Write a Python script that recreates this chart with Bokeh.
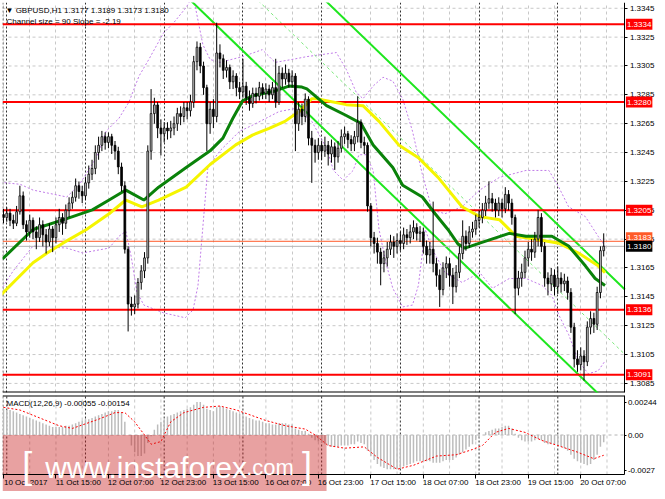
from bokeh.plotting import figure
from bokeh.models import Range1d, FixedTicker, Label, NumeralTickFormatter, Grid, LinearAxis
from bokeh.layouts import column
from bokeh.embed import file_html
from bokeh.resources import INLINE

FONT = "Liberation Sans"

# ---------------- data (H1 bars, index 0 = 10 Oct 2017 23:00) ----------------
first_open = 1.3202
closes = [
    1.3200, 1.3203, 1.3198, 1.3196, 1.3204, 1.3215, 1.3195, 1.3190, 1.3198, 1.3190,
    1.3186, 1.3195, 1.3188, 1.3183, 1.3192, 1.3186, 1.3195, 1.3200, 1.3196, 1.3205,
    1.3210, 1.3214, 1.3222, 1.3218, 1.3215, 1.3224, 1.3230, 1.3234, 1.3245, 1.3250,
    1.3256, 1.3252, 1.3256, 1.3250, 1.3246, 1.3235, 1.3222, 1.3178, 1.3140, 1.3138,
    1.3140, 1.3155, 1.3163, 1.3172, 1.3246, 1.3272, 1.3278, 1.3262, 1.3258, 1.3262,
    1.3260, 1.3262, 1.3265, 1.3272, 1.3270, 1.3276, 1.3274, 1.3280, 1.3308, 1.3318,
    1.3305, 1.3290, 1.3265, 1.3275, 1.3270, 1.3314, 1.3310, 1.3302, 1.3304, 1.3294,
    1.3298, 1.3290, 1.3287, 1.3291, 1.3283, 1.3279, 1.3286, 1.3284, 1.3290, 1.3286,
    1.3289, 1.3285, 1.3290, 1.3280, 1.3300, 1.3296, 1.3300, 1.3294, 1.3298, 1.3265,
    1.3275, 1.3270, 1.3282, 1.3255, 1.3250, 1.3245, 1.3250, 1.3246, 1.3250, 1.3244,
    1.3249, 1.3242, 1.3248, 1.3256, 1.3258, 1.3254, 1.3251, 1.3256, 1.3266, 1.3252,
    1.3250, 1.3208, 1.3186, 1.3182, 1.3176, 1.3168, 1.3172, 1.3178, 1.3183, 1.3180,
    1.3184, 1.3182, 1.3188, 1.3186, 1.3190, 1.3193, 1.3189, 1.3190, 1.3180, 1.3174,
    1.3178, 1.3168, 1.3160, 1.3150, 1.3165, 1.3168, 1.3160, 1.3152, 1.3162, 1.3175,
    1.3187, 1.3182, 1.3190, 1.3192, 1.3198, 1.3200, 1.3205, 1.3210, 1.3213, 1.3210,
    1.3205, 1.3210, 1.3206, 1.3216, 1.3210, 1.3200, 1.3151, 1.3158, 1.3162, 1.3172,
    1.3178, 1.3176, 1.3185, 1.3200, 1.3180, 1.3158, 1.3154, 1.3160, 1.3152, 1.3158,
    1.3154, 1.3156, 1.3148, 1.3124, 1.3102, 1.3098, 1.3104, 1.3100, 1.3124, 1.3130,
    1.3126, 1.3148, 1.3177, 1.3180]
highs = [
    1.3206, 1.3207, 1.3206, 1.3202, 1.3208, 1.3222, 1.3218, 1.3198, 1.3202, 1.3200,
    1.3194, 1.3200, 1.3198, 1.3192, 1.3196, 1.3194, 1.3200, 1.3206, 1.3203, 1.3209,
    1.3214, 1.3218, 1.3227, 1.3225, 1.3222, 1.3228, 1.3236, 1.3240, 1.3250, 1.3256,
    1.3260, 1.3259, 1.3259, 1.3258, 1.3253, 1.3249, 1.3238, 1.3225, 1.3180, 1.3145,
    1.3146, 1.3158, 1.3167, 1.3176, 1.3250, 1.3289, 1.3283, 1.3280, 1.3268, 1.3266,
    1.3266, 1.3267, 1.3270, 1.3276, 1.3277, 1.3280, 1.3280, 1.3285, 1.3312, 1.3322,
    1.3321, 1.3308, 1.3292, 1.3280, 1.3282, 1.3335, 1.3320, 1.3313, 1.3309, 1.3306,
    1.3302, 1.3300, 1.3294, 1.3310, 1.3294, 1.3288, 1.3290, 1.3290, 1.3294, 1.3293,
    1.3293, 1.3292, 1.3294, 1.3310, 1.3305, 1.3304, 1.3306, 1.3303, 1.3302, 1.3300,
    1.3280, 1.3279, 1.3286, 1.3284, 1.3260, 1.3254, 1.3255, 1.3253, 1.3256, 1.3253,
    1.3254, 1.3252, 1.3253, 1.3261, 1.3263, 1.3260, 1.3257, 1.3260, 1.3284, 1.3268,
    1.3256, 1.3252, 1.3210, 1.3190, 1.3186, 1.3179, 1.3177, 1.3183, 1.3188, 1.3187,
    1.3189, 1.3190, 1.3193, 1.3192, 1.3195, 1.3198, 1.3196, 1.3194, 1.3193, 1.3184,
    1.3183, 1.3211, 1.3172, 1.3164, 1.3169, 1.3173, 1.3172, 1.3165, 1.3167, 1.3180,
    1.3198, 1.3191, 1.3194, 1.3197, 1.3202, 1.3205, 1.3210, 1.3215, 1.3225, 1.3217,
    1.3213, 1.3214, 1.3213, 1.3221, 1.3219, 1.3213, 1.3202, 1.3163, 1.3168, 1.3177,
    1.3183, 1.3185, 1.3190, 1.3205, 1.3203, 1.3183, 1.3162, 1.3165, 1.3164, 1.3166,
    1.3162, 1.3161, 1.3159, 1.3151, 1.3127, 1.3108, 1.3110, 1.3108, 1.3128, 1.3135,
    1.3134, 1.3152, 1.3180, 1.3189]
lows = [
    1.3196, 1.3197, 1.3194, 1.3192, 1.3194, 1.3202, 1.3192, 1.3184, 1.3186, 1.3185,
    1.3178, 1.3183, 1.3180, 1.3175, 1.3180, 1.3176, 1.3182, 1.3190, 1.3188, 1.3192,
    1.3200, 1.3206, 1.3211, 1.3213, 1.3210, 1.3212, 1.3220, 1.3226, 1.3230, 1.3240,
    1.3246, 1.3247, 1.3248, 1.3244, 1.3240, 1.3230, 1.3218, 1.3175, 1.3121, 1.3132,
    1.3133, 1.3137, 1.3150, 1.3158, 1.3168, 1.3240, 1.3265, 1.3255, 1.3243, 1.3252,
    1.3254, 1.3255, 1.3257, 1.3260, 1.3264, 1.3266, 1.3268, 1.3270, 1.3276, 1.3302,
    1.3300, 1.3285, 1.3246, 1.3258, 1.3262, 1.3266, 1.3304, 1.3296, 1.3297, 1.3289,
    1.3289, 1.3284, 1.3282, 1.3283, 1.3278, 1.3274, 1.3276, 1.3279, 1.3281, 1.3282,
    1.3282, 1.3280, 1.3282, 1.3276, 1.3278, 1.3290, 1.3292, 1.3290, 1.3290, 1.3246,
    1.3260, 1.3264, 1.3266, 1.3250, 1.3224, 1.3238, 1.3240, 1.3240, 1.3242, 1.3236,
    1.3238, 1.3233, 1.3238, 1.3245, 1.3251, 1.3248, 1.3246, 1.3246, 1.3252, 1.3248,
    1.3244, 1.3204, 1.3180, 1.3175, 1.3168, 1.3153, 1.3162, 1.3166, 1.3174, 1.3172,
    1.3175, 1.3177, 1.3178, 1.3181, 1.3182, 1.3185, 1.3184, 1.3183, 1.3175, 1.3168,
    1.3168, 1.3162, 1.3152, 1.3138, 1.3146, 1.3158, 1.3152, 1.3140, 1.3148, 1.3158,
    1.3171, 1.3177, 1.3179, 1.3186, 1.3188, 1.3193, 1.3196, 1.3201, 1.3206, 1.3204,
    1.3200, 1.3201, 1.3200, 1.3203, 1.3205, 1.3195, 1.3133, 1.3146, 1.3152, 1.3158,
    1.3166, 1.3170, 1.3172, 1.3180, 1.3176, 1.3152, 1.3146, 1.3149, 1.3146, 1.3147,
    1.3148, 1.3149, 1.3143, 1.3120, 1.3096, 1.3093, 1.3094, 1.3087, 1.3097, 1.3119,
    1.3120, 1.3122, 1.3144, 1.3173]

# moving averages (green fast, yellow slow)
green_i = [-0.3, 9.0, 19.3, 27.1, 32.2, 37.3, 42.8, 47.3, 55.7, 63.0, 66.9, 69.9, 72.9, 75.9, 82.8, 87.0,
           91.0, 92.5, 98.5, 104.5, 109.0, 112.7, 118.7, 121.7, 127.7, 131.6, 135.5, 138.6, 140.7, 145.2,
           154.2, 159.3, 167.2, 172.3, 177.4, 180.4, 183.4]
green_p = [1.31713, 1.31917, 1.31992, 1.32053, 1.32121, 1.32190, 1.32121, 1.32210, 1.32346, 1.32462,
           1.32550, 1.32686, 1.32809, 1.32843, 1.32877, 1.32911, 1.32904, 1.32891, 1.32775, 1.32707,
           1.32652, 1.32503, 1.32346, 1.32224, 1.32142, 1.32026, 1.31917, 1.31815, 1.31788, 1.31822,
           1.31890, 1.31870, 1.31870, 1.31802, 1.31665, 1.31577, 1.31529]
yellow_i = [-0.9, 4.2, 9.0, 13.3, 18.1, 25.3, 32.2, 37.3, 42.2, 47.3, 55.7, 63.0, 70.8, 75.9, 81.0, 85.8,
            90.1, 94.0, 95.5, 104.5, 109.6, 114.5, 120.5, 126.5, 132.5, 139.8, 145.2, 151.2, 156.3,
            162.3, 169.3, 175.3, 181.3, 183.4]
yellow_p = [1.31461, 1.31577, 1.31686, 1.31754, 1.31822, 1.31917, 1.32026, 1.32121, 1.32074, 1.32121,
            1.32210, 1.32367, 1.32503, 1.32571, 1.32618, 1.32666, 1.32734, 1.32823, 1.32823, 1.32782,
            1.32775, 1.32666, 1.32503, 1.32414, 1.32278, 1.32074, 1.32006, 1.31985, 1.31870, 1.31849,
            1.31822, 1.31754, 1.31665, 1.31618]

# Bollinger-type envelope (violet dotted)
bbu_i = [-0.9, 5.1, 9.0, 15.1, 19.3, 23.2, 28.3, 31.3, 35.2, 38.3, 41.3, 44.3, 48.8, 51.8, 55.7, 57.8,
         59.3, 60.8, 63.0, 66.0, 72.9, 78.9, 82.8, 87.9, 92.5, 101.5, 104.5, 107.5, 109.6, 112.7, 115.7,
         118.7, 121.7, 124.7, 127.7, 130.7, 134.6, 139.8, 145.2, 151.2, 159.3, 166.3, 169.3, 172.3,
         177.4, 181.3, 183.4]
bbu_p = [1.32244, 1.32230, 1.32190, 1.32162, 1.32142, 1.32230, 1.32414, 1.32598, 1.32687, 1.32802,
         1.32979, 1.33095, 1.33279, 1.33347, 1.33456, 1.33537, 1.33367, 1.33197, 1.33095, 1.33075,
         1.33115, 1.33163, 1.33075, 1.33095, 1.33115, 1.33143, 1.33027, 1.32870, 1.32823, 1.32911,
         1.32972, 1.32945, 1.32823, 1.32598, 1.32299, 1.32053, 1.32026, 1.32074, 1.32190, 1.32278,
         1.32326, 1.32326, 1.32210, 1.32074, 1.32006, 1.31870, 1.31802]
bbl_i = [-0.9, 3.0, 9.0, 19.3, 24.1, 32.2, 35.2, 37.3, 38.9, 40.7, 42.8, 48.8, 55.4, 57.8, 59.3, 60.8,
         62.3, 66.0, 72.0, 75.9, 84.0, 88.9, 94.0, 98.5, 100.6, 103.6, 106.6, 108.4, 110.5, 112.7, 114.5,
         116.6, 118.7, 121.7, 124.7, 126.5, 128.6, 130.7, 134.6, 139.8, 145.2, 149.1, 154.2, 159.3,
         164.2, 167.2, 169.3, 172.3, 175.3, 178.3, 181.3, 183.4]
bbl_p = [1.31495, 1.31631, 1.31802, 1.31788, 1.31754, 1.31788, 1.31870, 1.31904, 1.31734, 1.31482,
         1.31393, 1.31339, 1.31305, 1.31359, 1.31529, 1.31938, 1.32346, 1.32462, 1.32598, 1.32639,
         1.32734, 1.32755, 1.32666, 1.32482, 1.32326, 1.32258, 1.32326, 1.32435, 1.32435, 1.32326,
         1.31917, 1.31686, 1.31509, 1.31380, 1.31393, 1.31529, 1.31917, 1.31781, 1.31618, 1.31550,
         1.31618, 1.31509, 1.31577, 1.31577, 1.31529, 1.31461, 1.31325, 1.31189, 1.31005, 1.30917,
         1.30937, 1.31005]

# regression channel: lower line end points, channel width 90 pips
ch_idx = [50, 189.46]
ch_lower = [1.33659, 1.30601]
ch_width = 0.0090

# horizontal levels
levels = [1.3334, 1.3280, 1.3205, 1.3136, 1.3091]
ask_price = 1.3183
bid_price = 1.3180

# MACD(12,26,9) main (histogram) and signal
macd = [
    0.0020, 0.0019, 0.0019, 0.0018,
    0.0017, 0.0016, 0.0015, 0.0014,
    0.0013, 0.0012, 0.0011, 0.0010, 0.0009,
    0.0008, 0.0007, 0.0006, 0.0006, 0.0006,
    0.0006, 0.0007, 0.0007, 0.0008, 0.0009,
    0.0010, 0.0011, 0.0012, 0.0012, 0.0013,
    0.0014, 0.0015, 0.0016, 0.0017, 0.0018, 0.0018,
    0.0019, 0.0019, 0.0017, 0.0010, 0.0000,
    -0.0008, -0.0013, -0.0016, -0.0016, -0.0014,
    -0.0006, -0.0001, 0.0004,
    0.0008, 0.0010, 0.0012, 0.0014, 0.0015,
    0.0016, 0.0017, 0.0018, 0.0019, 0.0020, 0.0021, 0.0023, 0.0025,
    0.0025, 0.0023, 0.0020, 0.0019, 0.0018, 0.0021, 0.0022, 0.0021, 0.0020, 0.0019,
    0.0018, 0.0017, 0.0016, 0.0015, 0.0014, 0.0013, 0.0012, 0.0011, 0.0011, 0.0010,
    0.0009, 0.0009, 0.0008, 0.0008, 0.0009, 0.0009, 0.0009, 0.0008, 0.0008, 0.0005,
    0.0004, 0.0003, 0.0003, 0.0001,
    -0.0002, -0.0004, -0.0005, -0.0006, -0.0007,
    -0.0008, -0.0009, -0.0009, -0.0009, -0.0008, -0.0008, -0.0008, -0.0007, -0.0007, -0.0005, -0.0006, -0.0007,
    -0.0012, -0.0016, -0.0019, -0.0022, -0.0024,
    -0.0025, -0.0026, -0.0026, -0.0026, -0.0026, -0.0025,
    -0.0024, -0.0023, -0.0022, -0.0021, -0.0020, -0.0020, -0.0020, -0.0020,
    -0.0020, -0.0021, -0.0021, -0.0021, -0.0020, -0.0019, -0.0019,
    -0.0019, -0.0017, -0.0015, -0.0013, -0.0011, -0.0009,
    -0.0007, -0.0004, -0.0002,
    0.0000, 0.0002, 0.0003, 0.0004, 0.0005, 0.0005,
    0.0006, 0.0007, 0.0007,
    0.0005, 0.0001, -0.0002,
    -0.0004, -0.0005, -0.0005, -0.0005,
    -0.0004, -0.0003, -0.0004, -0.0006, -0.0007, -0.0007, -0.0007, -0.0008,
    -0.0009, -0.0010, -0.0012, -0.0015, -0.0018, -0.0020,
    -0.0021, -0.0022, -0.0023, -0.0022,
    -0.0019, -0.0015, -0.0009, -0.00055]
sig_i = [0, 5, 11, 17, 21, 25, 29, 34, 37, 40, 43, 45, 48, 51, 55, 61, 66, 71, 80, 86, 92, 95, 99, 104,
         110, 114, 120, 125, 132, 138, 143, 146, 150, 154, 159, 164, 169, 175, 180, 183]
sig_v = [0.0021, 0.0019, 0.0013, 0.0007, 0.0005, 0.00085, 0.0012, 0.0017, 0.0017, 0.0010, 0.0000,
         -0.0007, -0.0005, 0.0010, 0.0017, 0.0021, 0.0022, 0.0019, 0.0011, 0.0007, 0.00045, 0.0000,
         -0.0008, -0.0010, -0.0009, -0.0017, -0.0026, -0.0023, -0.0016, -0.0015, -0.0011, -0.0008,
         0.0002, 0.0005, 0.0002, -0.0004, -0.0008, -0.0013, -0.0018, -0.00154]

# axes
price_ticks = [1.3085, 1.3105, 1.3125, 1.3145, 1.3165, 1.3185, 1.3205, 1.3225, 1.3245, 1.3265,
               1.3285, 1.3305, 1.3325, 1.3345]
macd_ticks = [-0.0027, 0.0, 0.00244]
macd_tick_text = ["-0.0027", "0.00", "0.00244"]
time_idx = [0, 16, 32, 48, 64, 80, 96, 112, 128, 144, 160, 176]
time_text = ["10 Oct 2017", "11 Oct 15:00", "12 Oct 07:00", "12 Oct 23:00", "13 Oct 15:00",
             "16 Oct 07:00", "16 Oct 23:00", "17 Oct 15:00", "18 Oct 07:00", "18 Oct 23:00",
             "19 Oct 15:00", "20 Oct 07:00"]
grid_idx = list(range(0, 192, 8))
day_sep_idx = [1, 25, 49, 73, 97, 121, 145, 169]

# ---------------- layout constants ----------------
n = min(len(closes), len(highs), len(lows))
idx = list(range(n))
opens = [first_open] + closes[:n - 1]
X0, X1 = -0.3, 189.46          # bar area
XE = 199.4                     # right end incl. price-scale strip
FW = 655
P0, P1 = 1.30787, 1.33490
M_TOP, M_BOT, M_END = 0.00300, -0.0030, -0.00429
LBL_SHIFT = 6.8                # time labels start at their tick

GRID = "#c8c8c8"
SEP = "#303030"
PINK = "#c81e1e"


def style_axis(ax):
    ax.major_label_text_font = FONT
    ax.major_label_text_font_size = "8px"
    ax.major_label_text_color = "black"
    ax.major_tick_out = 3
    ax.major_tick_in = 0
    ax.minor_tick_out = 0
    ax.minor_tick_in = 0
    ax.major_label_standoff = 2
    ax.axis_line_color = "black"
    ax.major_tick_line_color = "black"


# ---------------- price panel ----------------
p = figure(frame_width=FW, frame_height=390, x_range=Range1d(X0, XE), y_range=Range1d(P0, P1),
           output_backend="svg", toolbar_location=None, x_axis_location=None, y_axis_location=None,
           min_border_left=2, min_border_top=2, min_border_bottom=1, min_border_right=0)
p.outline_line_color = None
p.background_fill_color = "white"
p.grid.visible = False
p.add_layout(Grid(dimension=0, ticker=FixedTicker(ticks=grid_idx), grid_line_color=GRID, grid_line_dash="3 3"))
p.add_layout(Grid(dimension=0, ticker=FixedTicker(ticks=day_sep_idx), grid_line_color=SEP,
                  grid_line_dash="2 2", grid_line_width=1))
k = len(price_ticks)
p.segment(x0=[X0] * k, y0=price_ticks, x1=[X1] * k, y1=price_ticks, line_color=GRID, line_dash="3 3", line_width=1)

pya = LinearAxis(ticker=FixedTicker(ticks=price_ticks), formatter=NumeralTickFormatter(format="0.0000"),
                 fixed_location=X1)
style_axis(pya)
p.add_layout(pya, "right")

# borders
p.segment(x0=[X0, X0 + 0.12], y0=[P0, P0], x1=[X1, X0 + 0.12], y1=[P0, P1], line_color=["black", "#505050"],
          line_width=[2, 1], line_dash=["solid", "2 2"])

# bollinger / envelope
p.line(bbu_i, bbu_p, line_color="#c07ce8", line_dash="2 2", line_width=1)
p.line(bbl_i, bbl_p, line_color="#c07ce8", line_dash="2 2", line_width=1)

# channel
ch_upper = [v + ch_width for v in ch_lower]
ch_mid = [v + ch_width / 2 for v in ch_lower]
p.line(ch_idx, ch_upper, line_color="#1ee61e", line_width=2)
p.line(ch_idx, ch_lower, line_color="#1ee61e", line_width=2)
p.line(ch_idx, ch_mid, line_color="#7de87d", line_width=1, line_dash="3 3")

# levels
L = len(levels)
p.segment(x0=[X0] * L, y0=levels, x1=[X1] * L, y1=levels, line_color="#ff0000", line_width=2)
p.segment(x0=[X0, X0], y0=[ask_price + 0.00005, bid_price], x1=[X1, X1], y1=[ask_price + 0.00005, bid_price],
          line_color=["#ff5a28", "#b4b4b4"], line_width=1)

# moving averages
p.line(yellow_i, yellow_p, line_color="#f5f500", line_width=3)
p.line(green_i, green_p, line_color="#0a820a", line_width=3)

# candles
up_x, up_t, up_b, dn_x, dn_t, dn_b = [], [], [], [], [], []
for i in idx:
    o, c = opens[i], closes[i]
    if c >= o:
        up_x.append(i); up_t.append(c); up_b.append(o)
    else:
        dn_x.append(i); dn_t.append(o); dn_b.append(c)
p.segment(x0=idx, y0=highs[:n], x1=idx, y1=lows[:n], line_color="black", line_width=1)
p.vbar(x=up_x, width=0.55, top=up_t, bottom=up_b, fill_color="#c8c8c8", line_color="black", line_width=0.8)
p.vbar(x=dn_x, width=0.55, top=dn_t, bottom=dn_b, fill_color="black", line_color="black", line_width=0.8)

# header text
p.add_layout(Label(x=X0, y=P1, x_offset=3, y_offset=-3, text_baseline="top",
                   text="\u25BC GBPUSD,H1  %.4f %.4f %.4f %.4f" % (opens[-1], highs[n - 1], lows[n - 1], closes[-1]),
                   text_font=FONT, text_font_size="8px", text_color="black"))
p.add_layout(Label(x=X0, y=P1, x_offset=4, y_offset=-14, text_baseline="top",
                   text="Channel size = 90 Slope = -2.19",
                   text_font=FONT, text_font_size="8px", text_color="black"))


def axis_tag(fig, y, txt, bg):
    fig.add_layout(Label(x=X1, y=y, x_offset=1, text=txt, text_align="left", text_baseline="middle",
                         text_font=FONT, text_font_size="8px", text_color="white",
                         background_fill_color=bg, padding=(1, 3)))


axis_tag(p, ask_price + 0.0003, "%.4f" % ask_price, "#ff5a28")
axis_tag(p, bid_price, "%.4f" % bid_price, "black")
for lv in levels:
    axis_tag(p, lv, "%.4f" % lv, "#ff0000")

# ---------------- MACD panel ----------------
m = figure(frame_width=FW, frame_height=96, x_range=p.x_range, y_range=Range1d(M_END, M_TOP),
           output_backend="svg", toolbar_location=None, x_axis_location=None, y_axis_location=None,
           min_border_left=2, min_border_top=2, min_border_bottom=0, min_border_right=0)
m.outline_line_color = None
m.grid.visible = False
g = len(grid_idx)
m.segment(x0=grid_idx, y0=[M_BOT] * g, x1=grid_idx, y1=[M_TOP] * g, line_color=GRID, line_dash="3 3")
d = len(day_sep_idx)
m.segment(x0=day_sep_idx, y0=[M_BOT] * d, x1=day_sep_idx, y1=[M_TOP] * d, line_color=SEP, line_dash="2 2")
m.segment(x0=[X0], y0=[0.0], x1=[X1], y1=[0.0], line_color="#b4b4b4", line_dash="3 3")
m.segment(x0=[X0, X0 + 0.12], y0=[M_TOP, M_BOT], x1=[X1, X0 + 0.12], y1=[M_TOP, M_TOP],
          line_color=["black", "#505050"], line_width=[2, 1], line_dash=["solid", "2 2"])

m.vbar(x=idx[:len(macd)], width=0.45, top=macd[:n], bottom=0, fill_color="#bcbcbc", line_color=None)
m.line(sig_i, sig_v, line_color="#ff0000", line_dash="2 2", line_width=1)

# watermark panel (pink) drawn as a glyph so it reaches under the time labels
m.quad(left=[X0], right=[98.5], top=[0.0], bottom=[M_END], fill_color=PINK, fill_alpha=0.42, line_color=None)

my = LinearAxis(ticker=FixedTicker(ticks=macd_ticks), fixed_location=X1, bounds=(M_BOT, M_TOP),
                major_label_overrides={t: s for t, s in zip(macd_ticks, macd_tick_text)})
style_axis(my)
my.major_tick_out = 2
my.major_label_standoff = 1
m.add_layout(my, "right")

mx = LinearAxis(ticker=FixedTicker(ticks=time_idx), fixed_location=M_BOT, bounds=(X0, X1),
                major_label_overrides={t: "" for t in time_idx})
style_axis(mx)
mx.major_tick_out = 4
m.add_layout(mx, "below")
lab_pos = [t + LBL_SHIFT for t in time_idx]
mx2 = LinearAxis(ticker=FixedTicker(ticks=lab_pos), fixed_location=M_BOT,
                 major_label_overrides={t: s for t, s in zip(lab_pos, time_text)})
style_axis(mx2)
mx2.axis_line_color = None
mx2.major_tick_line_color = None
mx2.major_tick_out = 0
mx2.major_label_standoff = 3
m.add_layout(mx2, "below")

m.add_layout(Label(x=X0, y=M_TOP, x_offset=4, y_offset=-3, text_baseline="top",
                   text="MACD(12,26,9) %.5f %.5f" % (macd[-1], sig_v[-1]),
                   text_font=FONT, text_font_size="8px", text_color="black"))

for tx, xx, sz, yo in [("[", 5.7, "36px", 9), ("www.instaforex", 12.7, "30px", 7),
                       (".com", 74.0, "22px", 7), ("]", 91.0, "36px", 9)]:
    m.add_layout(Label(x=xx, y=M_BOT, y_offset=yo, text=tx, text_baseline="alphabetic",
                       text_font=FONT, text_font_size=sz, text_color="white"))

layout = column(p, m, spacing=0)
open("out.html", "w").write(file_html(layout, INLINE))
